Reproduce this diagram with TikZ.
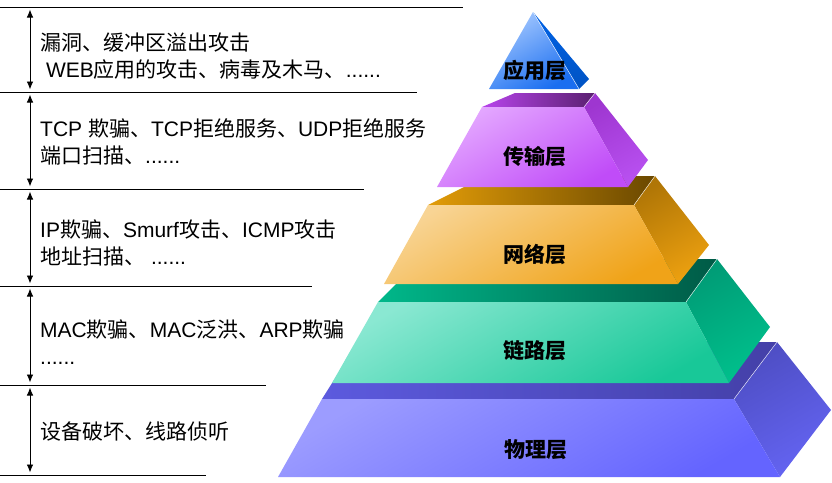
\documentclass[tikz,border=0pt]{standalone}
\usepackage{fontspec}
\setmainfont{Liberation Sans}
\newfontfamily\cjk{Noto Sans CJK SC}
\usetikzlibrary{arrows.meta}

\definecolor{appF1}{HTML}{A4C8FF}
\definecolor{appF2}{HTML}{1A6EF0}
\definecolor{appS}{HTML}{0062E6}
\definecolor{traF1}{HTML}{E4A8FF}
\definecolor{traF2}{HTML}{C04CF8}
\definecolor{traT1}{HTML}{B844EC}
\definecolor{traT2}{HTML}{5A2070}
\definecolor{traS1}{HTML}{9E36D0}
\definecolor{traS2}{HTML}{B850F0}
\definecolor{netF1}{HTML}{F8D494}
\definecolor{netF2}{HTML}{F0A318}
\definecolor{netT1}{HTML}{E29C08}
\definecolor{netT2}{HTML}{6A4800}
\definecolor{netS1}{HTML}{B07606}
\definecolor{netS2}{HTML}{ECA010}
\definecolor{lnkF1}{HTML}{8AE8D2}
\definecolor{lnkF2}{HTML}{18C898}
\definecolor{lnkT1}{HTML}{00B88A}
\definecolor{lnkT2}{HTML}{005A46}
\definecolor{lnkS1}{HTML}{009C76}
\definecolor{lnkS2}{HTML}{00C08C}
\definecolor{phyF1}{HTML}{9C9CFF}
\definecolor{phyF2}{HTML}{6464FF}
\definecolor{phyT1}{HTML}{5C5ADE}
\definecolor{phyT2}{HTML}{4440A8}
\definecolor{phyS1}{HTML}{4E4EC4}
\definecolor{phyS2}{HTML}{6464F2}

\begin{document}
\begin{tikzpicture}[
x=1pt,y=-1pt,
sep/.style={line width=1pt},
span/.style={{Latex[length=8pt,width=6.5pt]}-{Latex[length=8pt,width=6.5pt]},line width=0.9pt,shorten <=2.5pt,shorten >=2.5pt},
attack/.style={anchor=west,align=left,inner sep=0pt,font=\fontsize{21}{27}\selectfont},
layer/.style={inner sep=0pt,font=\cjk\bfseries\fontsize{21}{21}\selectfont},
rim/.style={white,line width=0.5pt,opacity=0.8}
]
\useasboundingbox (0,0) rectangle (832,482);

% separators on the left
\draw[sep] (0,7) -- (463,7);
\draw[sep] (0,92) -- (417,92);
\draw[sep] (0,189) -- (364,189);
\draw[sep] (0,286) -- (312,286);
\draw[sep] (0,385) -- (266,385);
\draw[sep] (0,475) -- (206,475);

\coordinate (m0) at (30,7);
\coordinate (m1) at (30,92);
\coordinate (m2) at (30,189);
\coordinate (m3) at (30,286);
\coordinate (m4) at (30,385);
\coordinate (m5) at (30,475);
\foreach \a/\b in {m0/m1,m1/m2,m2/m3,m3/m4,m4/m5}
  \draw[span] (\a) -- (\b);

% attacks per layer
\node[attack] (atkApp) at (40,56) {{\cjk 漏洞、缓冲区溢出攻击}\\\ WEB{\cjk 应用的攻击、病毒及木马、}......};
\node[attack] (atkTra) at (40,142) {TCP {\cjk 欺骗、}TCP{\cjk 拒绝服务、}UDP{\cjk 拒绝服务}\\{\cjk 端口扫描、}......};
\node[attack] (atkNet) at (40,243) {IP{\cjk 欺骗、}Smurf{\cjk 攻击、}ICMP{\cjk 攻击}\\{\cjk 地址扫描、}\ ......};
\node[attack] (atkLnk) at (40,342) {MAC{\cjk 欺骗、}MAC{\cjk 泛洪、}ARP{\cjk 欺骗}\\......};
\node[attack] (atkPhy) at (40,432) {{\cjk 设备破坏、线路侦听}};

% physical layer
\shade[left color=phyT1,right color=phyT2] (322,399) -- (734,399) -- (777,342) -- (358,342) -- cycle;
\shade[top color=phyS1,bottom color=phyS2,shading angle=30] (734,399) -- (777,342) -- (831,410) -- (780,477) -- cycle;
\shade[top color=phyF1,bottom color=phyF2,shading angle=30] (278,477) -- (780,477) -- (734,399) -- (322,399) -- cycle;
\draw[rim] (734,399) -- (777,342);

% link layer
\shade[left color=lnkT1,right color=lnkT2] (378,302) -- (686,302) -- (717,259) -- (421,259) -- cycle;
\shade[top color=lnkS1,bottom color=lnkS2,shading angle=30] (686,302) -- (717,259) -- (770,327) -- (729,383) -- cycle;
\shade[top color=lnkF1,bottom color=lnkF2,shading angle=30] (332,383) -- (729,383) -- (686,302) -- (378,302) -- cycle;
\draw[rim] (686,302) -- (717,259);

% network layer
\shade[left color=netT1,right color=netT2] (428,205) -- (634,205) -- (655,176) -- (486,176) -- cycle;
\shade[top color=netS1,bottom color=netS2,shading angle=30] (634,205) -- (655,176) -- (709,245) -- (678,284) -- cycle;
\shade[top color=netF1,bottom color=netF2,shading angle=30] (384,284) -- (678,284) -- (634,205) -- (428,205) -- cycle;
\draw[rim] (634,205) -- (655,176);

% transport layer
\shade[left color=traT1,right color=traT2] (482,107) -- (584,107) -- (595,93) -- (515,93) -- cycle;
\shade[top color=traS1,bottom color=traS2,shading angle=30] (584,107) -- (595,93) -- (648,160) -- (628,187) -- cycle;
\shade[top color=traF1,bottom color=traF2,shading angle=30] (437,187) -- (628,187) -- (584,107) -- (482,107) -- cycle;
\draw[rim] (584,107) -- (595,93);

% application layer
\shade[top color=appS,bottom color=appS!85!black] (533,12) -- (589,79) -- (579,89) -- cycle;
\shade[top color=appF1,bottom color=appF2,shading angle=30] (489,89) -- (579,89) -- (533,12) -- cycle;
\draw[rim] (533,12) -- (579,89);

\node[layer] (app) at (535,70) {应用层};
\node[layer] (tra) at (535,157) {传输层};
\node[layer] (net) at (535,254) {网络层};
\node[layer] (lnk) at (535,351) {链路层};
\node[layer] (phy) at (536,450) {物理层};
\end{tikzpicture}
\end{document}
